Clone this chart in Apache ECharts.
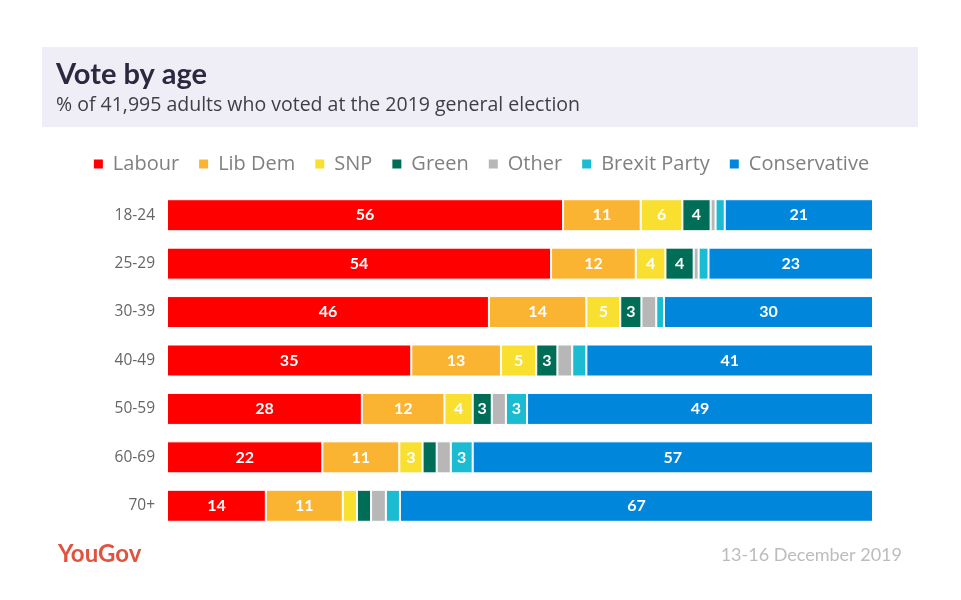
<!DOCTYPE html>
<html>
<head>
<meta charset="utf-8">
<script src="https://cdn.jsdelivr.net/npm/echarts@6/dist/echarts.min.js"></script>
<style>html,body{margin:0;padding:0;background:#fff}#c{width:961px;height:600px}</style>
</head>
<body>
<div id="c"></div>
<script>
const categories = ['18-24','25-29','30-39','40-49','50-59','60-69','70+'];
const labour       = [56.1, 54.4, 45.6, 34.6, 27.6, 22.0, 14.0];
const libDem       = [11.0, 12.0, 13.8, 12.7, 11.7, 10.9, 10.9];
const snp          = [5.9, 4.2, 4.8, 5.0, 4.0, 3.3, 2.0];
const green        = [4.0, 4.0, 3.0, 3.0, 2.7, 2.0, 2.0];
const other        = [0.7, 0.7, 2.1, 2.1, 2.0, 2.0, 2.1];
const brexit       = [1.3, 1.4, 1.1, 2.0, 3.0, 3.1, 2.0];
const conservative = [21.0, 23.3, 29.6, 40.6, 49.0, 56.7, 67.0];
const seriesNames  = ['Labour','Lib Dem','SNP','Green','Other','Brexit Party','Conservative'];
const seriesColors = ['#ff0000','#fbb432','#f8df30','#006d57','#b7b7b7','#1bbcd2','#0087dc'];
const seriesData   = [labour, libDem, snp, green, other, brexit, conservative];

const chart = echarts.init(document.getElementById('c'));
const FONT = 'Lato, "Open Sans", sans-serif';
const WIDE = '"Open Sans", Lato, sans-serif';
chart.setOption({
  animation: false,
  textStyle: {fontFamily: FONT},
  graphic: [
    {type:'rect', shape:{x:42, y:47, width:876, height:80}, style:{fill:'#efedf6'}, z:-1},
    {type:'text', left:58, top:542, style:{text:'YouGov', fill:'#e0533f', font:'bold 24px ' + FONT}},
    {type:'text', right:59, top:546, style:{text:'13-16 December 2019', fill:'#bcbcbc', font:'18px ' + FONT}}
  ],
  title: {
    text: 'Vote by age',
    subtext: '% of 41,995 adults who voted at the 2019 general election',
    left: 51, top: 55,
    itemGap: 6,
    textStyle: {fontSize: 29, fontWeight: 'bold', color: '#2b2940', fontFamily: FONT},
    subtextStyle: {fontSize: 19.5, color: '#3e3e4a', fontFamily: WIDE}
  },
  legend: {
    left: 'center', top: 149,
    icon: 'rect', itemWidth: 11, itemHeight: 11, itemGap: 18,
    textStyle: {fontSize: 20, color: '#808080', fontFamily: WIDE, padding: [0, 0, 0, 4]},
    data: seriesNames
  },
  grid: {left: 167, right: 88, top: 191, bottom: 70},
  xAxis: {type: 'value', min: 0, max: 100, show: false},
  yAxis: {
    type: 'category', data: categories, inverse: true,
    axisLine: {show: false}, axisTick: {show: false},
    axisLabel: {fontSize: 15.5, color: '#666', margin: 12, fontFamily: WIDE}
  },
  series: seriesNames.map((name, i) => ({
    name, type: 'bar', stack: 'total', barWidth: 32,
    data: seriesData[i],
    itemStyle: {color: seriesColors[i], borderColor: '#fff', borderWidth: 1},
    label: {
      show: true, position: 'inside', color: '#fff', fontSize: 16, fontWeight: 'bold', fontFamily: FONT,
      formatter: p => p.value >= 2.5 ? String(Math.round(p.value)) : ''
    }
  }))
});
</script>
</body>
</html>
